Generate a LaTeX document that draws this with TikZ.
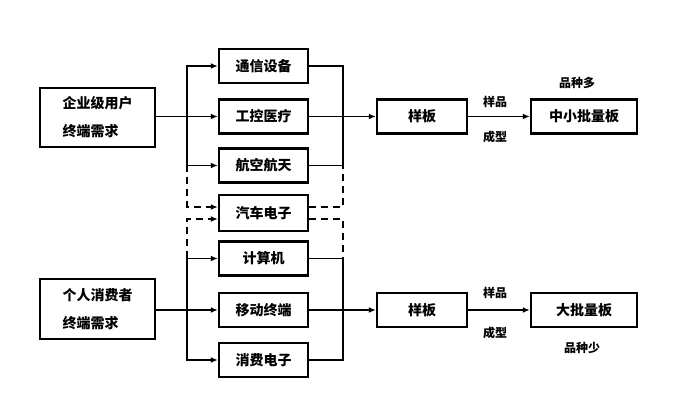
\documentclass[tikz,border=0pt]{standalone}
\usepackage{fontspec}
\usepackage{tikz}
\usetikzlibrary{arrows.meta}
\newfontfamily\cjk{Noto Sans CJK SC}

\begin{document}
\begin{tikzpicture}[x=1pt,y=-1pt,
    box/.style={draw,line width=2.4pt,minimum width=89pt,minimum height=34pt,inner sep=0pt,font=\cjk\bfseries\fontsize{14}{28}\selectfont},
    line/.style={line width=1.8pt},
    arr/.style={line width=1.8pt,-{Latex[length=7pt,width=6pt]}},
    dline/.style={line width=1.8pt,dash pattern=on 7pt off 5pt},
    darr/.style={dline,-{Latex[length=7pt,width=6pt]}},
    lbl/.style={font=\cjk\bfseries\fontsize{12}{12}\selectfont}]
    \useasboundingbox(0,0)rectangle(696,411);

    \node[box,minimum width=115pt,minimum height=59pt,align=left](ent)at(97.5,117.5){企业级用户\\终端需求};
    \node[box,minimum width=115pt,minimum height=60pt,align=left](per)at(97.5,309){个人消费者\\终端需求};

    \node[box](tx)at(263.5,66){通信设备};
    \node[box](gk)at(263.5,116.5){工控医疗};
    \node[box](hk)at(263.5,165.5){航空航天};
    \node[box,minimum height=36pt](qc)at(263.5,213){汽车电子};
    \node[box](js)at(263.5,258.5){计算机};
    \node[box](yd)at(263.5,310){移动终端};
    \node[box](xf)at(263.5,360){消费电子};

    \node[box,minimum width=90pt](yb1)at(422,116.5){样板};
    \node[box,minimum width=90pt](yb2)at(422,310){样板};
    \node[box,minimum width=106pt](zx)at(584,116.5){中小批量板};
    \node[box,minimum width=106pt](dp)at(584,310){大批量板};

    \coordinate(sL1)at(187,116.5);
    \coordinate(sL2)at(187,310);
    \coordinate(sR1)at(343,116.5);
    \coordinate(sR2)at(343,310);

    % enterprise side
    \draw[arr](ent.east|-sL1)--(gk.west);
    \draw[arr](sL1)|-(tx.west);
    \draw[arr](sL1)|-(hk.west);
    \draw[line](tx.east)-|(sR1);
    \draw[line](hk.east)-|(sR1);
    \draw[arr](gk.east)--(yb1.west);

    % consumer side
    \draw[arr](per.east|-sL2)--(yd.west);
    \draw[arr](sL2)|-(js.west);
    \draw[arr](sL2)|-(xf.west);
    \draw[line](js.east)-|(sR2);
    \draw[line](xf.east)-|(sR2);
    \draw[arr](yd.east)--(yb2.west);

    % automotive, dashed
    \draw[darr](sL1|-hk.west)|-([yshift=6pt]qc.west);
    \draw[darr](sL2|-js.west)|-([yshift=-6pt]qc.west);
    \draw[dline]([yshift=6pt]qc.east)-|(sR1|-hk.east);
    \draw[dline]([yshift=-6pt]qc.east)-|(sR2|-js.east);

    \draw[arr](yb1)--(zx);
    \draw[arr](yb2)--(dp);
    \node[lbl](yp1)at(495,102){样品};
    \node[lbl](cx1)at(495,137){成型};
    \node[lbl](pz1)at(577,83){品种多};
    \node[lbl](yp2)at(495,293){样品};
    \node[lbl](cx2)at(495,333){成型};
    \node[lbl](pz2)at(582,348){品种少};
\end{tikzpicture}
\end{document}
